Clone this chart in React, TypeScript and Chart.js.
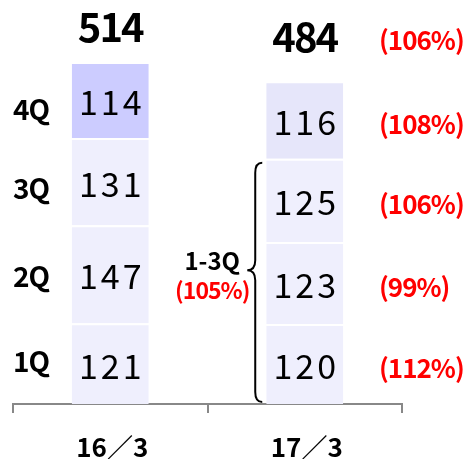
import React, { useEffect, useRef } from "react";
import { Chart, registerables } from "chart.js";

Chart.register(...registerables);

const categories = ["16／3", "17／3"];
const quarterLabels = ["1Q", "2Q", "3Q", "4Q"];
const q1Values = [121, 120];
const q2Values = [147, 123];
const q3Values = [131, 125];
const q4Values = [114, 116];
const totals = [514, 484];
const quarterGrowth = ["(112%)", "(99%)", "(106%)", "(108%)"];
const totalGrowth = "(106%)";
const cumulativeLabel = "1-3Q";
const cumulativeGrowth = "(105%)";

const FONT = '"Noto Sans CJK JP", "Noto Sans", sans-serif';

const labelPlugin = {
  id: "labels",
  afterDatasetsDraw(chart: any) {
    const ctx = chart.ctx;
    const yScale = chart.scales.y;
    const xScale = chart.scales.x;
    ctx.save();
    ctx.textBaseline = "middle";
    const quarterLabelShift = [-4, 0, 5, 7];

    chart.data.datasets.forEach((ds: any, i: number) => {
      const meta = chart.getDatasetMeta(i);
      meta.data.forEach((el: any, j: number) => {
        const cy = (el.y + el.base) / 2 + 2;
        ctx.font = `normal 34px ${FONT}`;
        ctx.fillStyle = "#000";
        ctx.textAlign = "center";
        (ctx as any).letterSpacing = "3px";
        ctx.fillText(String(ds.data[j]), el.x + 1.5, cy);
        (ctx as any).letterSpacing = "0px";
        if (j === 0) {
          ctx.font = `bold 28px ${FONT}`;
          ctx.textAlign = "center";
          (ctx as any).letterSpacing = "-1px";
          ctx.fillText(quarterLabels[i], 31, cy + quarterLabelShift[i]);
          (ctx as any).letterSpacing = "0px";
        }
        if (j === 1) {
          ctx.font = `bold 26px ${FONT}`;
          ctx.fillStyle = "#ff0000";
          ctx.textAlign = "left";
          (ctx as any).letterSpacing = "-1px";
          ctx.fillText(quarterGrowth[i], 379, cy + 2);
          (ctx as any).letterSpacing = "0px";
        }
      });
    });

    const totalOffsets = [35, 45];
    const lastMeta = chart.getDatasetMeta(chart.data.datasets.length - 1);
    totals.forEach((t, j) => {
      const el: any = lastMeta.data[j];
      const ty = yScale.getPixelForValue(t) - totalOffsets[j];
      ctx.font = `bold 40px ${FONT}`;
      ctx.fillStyle = "#000";
      ctx.textAlign = "center";
      (ctx as any).letterSpacing = "-2px";
      ctx.fillText(String(t), el.x, ty);
      (ctx as any).letterSpacing = "0px";
      if (j === 1) {
        ctx.font = `bold 26px ${FONT}`;
        ctx.fillStyle = "#ff0000";
        ctx.textAlign = "left";
        (ctx as any).letterSpacing = "-1px";
        ctx.fillText(totalGrowth, 379, ty + 4);
        (ctx as any).letterSpacing = "0px";
      }
    });

    const el1: any = chart.getDatasetMeta(0).data[1];
    const left = el1.x - el1.width / 2;
    const top = yScale.getPixelForValue(q1Values[1] + q2Values[1] + q3Values[1]) + 4;
    const bottom = yScale.getPixelForValue(0) - 2;
    const endX = left - 4;
    const midX = left - 11;
    const tipX = left - 19;
    const tipY = top + (bottom - top) * 0.45;
    ctx.beginPath();
    ctx.strokeStyle = "#000";
    ctx.lineWidth = 2;
    ctx.moveTo(endX, top);
    ctx.quadraticCurveTo(midX, top, midX, top + 10);
    ctx.lineTo(midX, tipY - 10);
    ctx.quadraticCurveTo(midX, tipY, tipX, tipY);
    ctx.quadraticCurveTo(midX, tipY, midX, tipY + 10);
    ctx.lineTo(midX, bottom - 10);
    ctx.quadraticCurveTo(midX, bottom, endX, bottom);
    ctx.stroke();

    ctx.textAlign = "center";
    ctx.fillStyle = "#000";
    ctx.font = `bold 24px ${FONT}`;
    ctx.fillText(cumulativeLabel, tipX - 35, tipY - 9);
    ctx.fillStyle = "#ff0000";
    ctx.font = `bold 23px ${FONT}`;
    (ctx as any).letterSpacing = "-1px";
    ctx.fillText(cumulativeGrowth, tipX - 35, tipY + 20);
    (ctx as any).letterSpacing = "0px";

    ctx.fillStyle = "#000";
    ctx.font = `bold 26px ${FONT}`;
    ctx.textAlign = "center";
    categories.forEach((c, j) => {
      const x = xScale.getPixelForValue(j);
      ctx.fillText(c, x + 2, yScale.getPixelForValue(0) + 43);
    });
    ctx.restore();
  },
};

export default function App() {
  const ref = useRef<HTMLCanvasElement>(null);
  useEffect(() => {
    if (!ref.current) return;
    const light = "#efeffd";
    const chart = new Chart(ref.current, {
      type: "bar",
      data: {
        labels: categories,
        datasets: [
          { label: "1Q", data: q1Values, backgroundColor: [light, light] },
          { label: "2Q", data: q2Values, backgroundColor: [light, light] },
          { label: "3Q", data: q3Values, backgroundColor: [light, light] },
          { label: "4Q", data: q4Values, backgroundColor: ["#ccccff", "#e6e6fa"] },
        ].map((d) => ({
          ...d,
          borderColor: "#ffffff",
          borderWidth: { top: 2, left: 0, right: 0, bottom: 0 },
          borderSkipped: false,
          categoryPercentage: 1,
          barPercentage: 0.396,
        })),
      },
      options: {
        responsive: false,
        animation: false,
        layout: { padding: { left: 13, right: 66, top: 4, bottom: 0 } },
        plugins: { legend: { display: false }, tooltip: { enabled: false }, title: { display: false } },
        scales: {
          x: {
            stacked: true,
            ticks: { display: false },
            grid: {
              display: true,
              drawOnChartArea: false,
              drawTicks: true,
              tickLength: 9,
              color: "#888888",
              lineWidth: 2,
            },
            border: { display: true, color: "#888888", width: 2 },
            afterFit: (scale: any) => {
              scale.height = 55;
            },
          },
          y: {
            stacked: true,
            display: false,
            min: 0,
            max: 600,
          },
        },
      },
      plugins: [labelPlugin],
    });
    return () => chart.destroy();
  }, []);
  return (
    <div style={{ position: "absolute", left: 0, top: 0, width: 468, height: 459, background: "#fff" }}>
      <canvas ref={ref} width={468} height={459} />
    </div>
  );
}
